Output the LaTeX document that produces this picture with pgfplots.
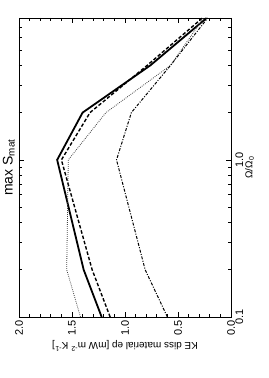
\documentclass[border=0pt]{standalone}
\usepackage{pgfplots}
\pgfplotsset{compat=1.18}
\usepackage{graphicx}
\usepackage{fontspec}
\setmainfont{Liberation Sans}
\begin{document}
\rotatebox{90}{%
\begin{tikzpicture}
\begin{axis}[
  at={(0,0)}, anchor=south west,
  scale only axis, width=299bp, height=212bp,
  xmode=log, xmin=0.1, xmax=8, ymin=0, ymax=2,
  xtick={0.1,1}, xticklabels={0.1,1.0},
  minor xtick={0.2,0.3,0.4,0.5,0.6,0.7,0.8,0.9,2,3,4,5,6,7},
  ytick={0,0.5,1,1.5,2},
  minor ytick={0.1,0.2,0.3,0.4,0.6,0.7,0.8,0.9,1.1,1.2,1.3,1.4,1.6,1.7,1.8,1.9},
  yticklabel style={/pgf/number format/.cd, fixed, fixed zerofill, precision=1},
  /pgf/number format/assume math mode=true,
  tick align=inside,
  major tick length=5bp, minor tick length=3bp,
  axis line style={line width=0.9bp},
  every tick/.style={black, line width=0.7bp},
  tick label style={font=\fontsize{11}{13}\selectfont},
  xticklabel style={yshift=-1bp},
  label style={font=\fontsize{11.5}{13}\selectfont},
  xlabel={$\Omega$/$\Omega$\textsubscript{0}},
  xlabel={Ω/Ω\textsubscript{0}},
  every axis x label/.style={at={(axis description cs:0.5,0)}, anchor=north, inner sep=0pt, yshift=-14bp},
  ylabel={KE diss material ep [mW m\textsuperscript{-2} K\textsuperscript{-1}]},
  every axis y label/.style={at={(axis description cs:-0.097,0.5)}, rotate=90, anchor=center, inner sep=0pt},
  title={max S\textsubscript{mat}},
  every axis title/.style={at={(axis description cs:0.5,1)}, anchor=south, inner sep=0pt, yshift=4bp, font=\fontsize{14}{16}\selectfont},
]
\addplot[black, line width=1.8bp] coordinates {(0.1,1.22) (0.2,1.39) (1,1.64) (2,1.40) (4,0.76) (8,0.23)};
\addplot[black, line width=1.4bp, dash pattern=on 3.5bp off 2bp] coordinates {(0.1,1.14) (0.2,1.31) (1,1.60) (2,1.33) (4,0.79) (8,0.27)};
\addplot[black!75, line width=0.8bp, dash pattern=on 0.8bp off 1.2bp] coordinates {(0.1,1.42) (0.2,1.55) (1,1.535) (2,1.18) (4,0.57) (8,0.26)};
\addplot[black, line width=1bp, dash pattern=on 3bp off 1.5bp on 1bp off 1.5bp] coordinates {(0.1,0.60) (0.2,0.81) (1,1.08) (2,0.94) (4,0.57) (8,0.22)};
\end{axis}
\pgfresetboundingbox
\useasboundingbox (-61bp,-38bp) rectangle (317bp,231bp);
\end{tikzpicture}}
\end{document}
